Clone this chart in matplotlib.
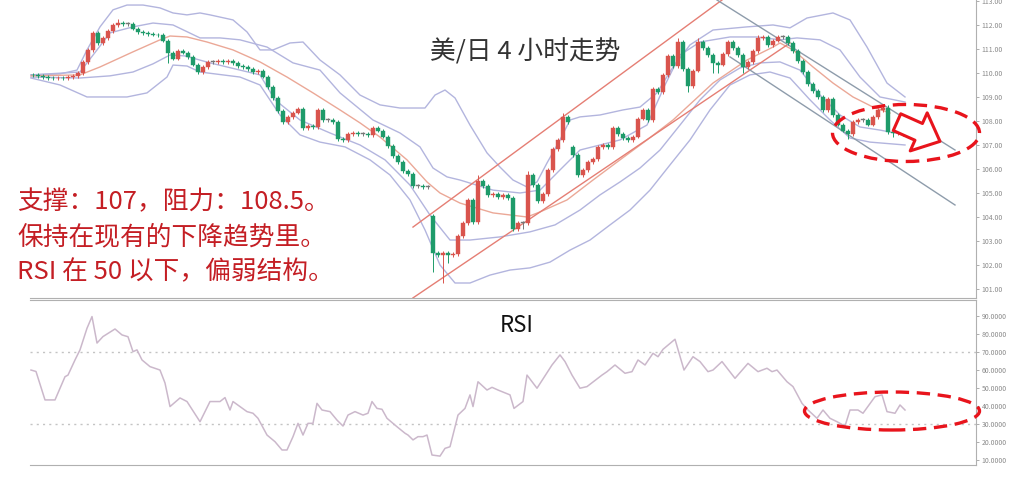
import matplotlib
matplotlib.use("Agg")
import matplotlib.pyplot as plt
from matplotlib.patches import Ellipse, Rectangle

plt.rcParams['font.family'] = ['Noto Sans CJK SC', 'DejaVu Sans']

# USD/JPY 4h closes, one per bar (open = previous close unless gapped)
closes = [
    109.90, 109.87, 109.84, 109.80, 109.78, 109.80, 109.78, 109.82, 109.86, 110.00,
    110.45, 110.95, 111.65, 111.25, 111.45, 111.75, 112.00, 112.10, 112.05, 112.05,
    111.85, 111.70, 111.65, 111.62, 111.60, 111.57, 111.35, 110.85, 110.60, 110.90,
    110.85, 110.65, 110.35, 110.05, 110.25, 110.45, 110.45, 110.50, 110.45, 110.50,
    110.40, 110.30, 110.25, 110.15, 110.05, 110.10, 109.85, 109.40, 108.95, 108.40,
    107.95, 108.15, 108.35, 108.50, 107.70, 107.80, 107.75, 108.45, 108.05, 108.05,
    107.95, 107.25, 107.20, 107.45, 107.50, 107.45, 107.45, 107.40, 107.70, 107.60,
    107.35, 106.95, 106.55, 106.30, 105.90, 105.80, 105.30, 105.30, 105.25, 105.25,
    102.50, 102.40, 102.50, 102.40, 102.45, 103.20, 103.75, 104.70, 103.80, 105.50,
    105.30, 104.90, 104.95, 104.85, 104.90, 104.80, 103.50, 103.75, 103.75, 105.75,
    105.35, 104.65, 104.95, 105.95, 106.85, 107.20, 108.15, 107.95, 106.60, 105.75,
    105.95, 106.30, 106.40, 106.90, 107.00, 106.90, 107.70, 107.45, 107.30, 107.20,
    107.35, 108.10, 108.45, 108.05, 109.35, 109.20, 109.90, 110.70, 110.30, 111.30,
    110.15, 109.45, 110.10, 111.30, 111.05, 110.75, 110.40, 110.35, 110.80, 111.30,
    111.05, 110.75, 110.25, 110.45, 110.90, 111.45, 111.50, 111.15, 111.35, 111.50,
    111.50, 111.25, 110.90, 110.50, 110.05, 109.55, 109.25, 109.00, 108.45, 108.90,
    108.25, 107.85, 107.60, 107.45, 107.95, 108.05, 108.05, 107.85, 108.15, 108.45,
    108.55, 107.55, 107.50, 107.60, 107.45,
]
gap_opens = {80: 104.05, 108: 106.90, 174: 107.95}
wick_hi = {17: 112.25, 89: 105.75, 99: 105.90, 106: 108.35, 129: 111.45,
           133: 111.45, 145: 111.60, 170: 108.70, 171: 108.65}
wick_lo = {27: 110.40, 80: 101.70, 82: 101.25, 83: 102.10, 98: 103.50,
           131: 109.20, 136: 110.00, 137: 110.00, 142: 110.00, 163: 107.25,
           172: 107.35}

# bollinger bands and middle average, vertices as (bar, price)
ou_x = [-0.4, 5.4, 8.8, 10.8, 13.4, 16.0, 18.8, 22.0, 25.4, 28.0, 30.8, 33.4, 35.4,
        40.0, 42.8, 45.4, 48.0, 51.4, 54.0, 57.4, 61.4, 65.4, 69.4, 73.4, 78.4, 80.4,
        82.4, 84.4, 87.4, 90.8, 93.4, 96.0, 98.8, 100.8, 102.8, 105.4, 107.4, 109.4,
        113.4, 118.0, 121.4, 124.8, 128.0, 131.4, 136.0, 142.8, 148.0, 151.4, 154.8,
        160.0, 163.4, 166.8, 170.8, 174.4]
ou_y = [109.92, 109.96, 110.12, 110.96, 111.92, 112.63, 112.83, 112.83, 112.71, 112.50,
        112.42, 112.50, 112.42, 112.21, 111.71, 110.96, 110.96, 111.25, 111.29, 110.54,
        109.92, 109.08, 108.67, 108.54, 108.54, 109.08, 109.29, 108.96, 107.83, 106.67,
        106.08, 105.54, 105.25, 105.46, 106.25, 107.21, 108.04, 108.17, 108.25, 108.46,
        108.58, 109.17, 110.25, 111.17, 111.79, 111.92, 112.00, 111.88, 112.29, 112.50,
        112.21, 111.08, 109.58, 109.00]
iu_x = [-0.4, 9.4, 12.8, 15.4, 20.0, 24.0, 28.0, 33.4, 37.4, 41.4, 46.8, 52.0, 57.4,
        61.4, 68.0, 73.4, 77.4, 80.0, 82.8, 85.4, 92.0, 97.4, 101.4, 105.4, 109.4,
        113.4, 117.4, 122.8, 126.4, 129.4, 133.4, 139.4, 144.8, 149.4, 152.8, 157.4,
        161.4, 165.4, 169.4, 174.4]
iu_y = [109.92, 110.04, 110.96, 111.67, 111.92, 112.08, 112.00, 111.46, 111.46, 111.38,
        111.08, 110.42, 110.12, 109.17, 108.04, 107.50, 106.92, 106.04, 105.67, 105.54,
        105.12, 105.00, 105.12, 105.96, 106.79, 107.00, 107.21, 107.83, 109.50, 110.75,
        111.29, 111.50, 111.50, 111.38, 111.46, 111.38, 110.96, 109.83, 109.00, 108.79]
ma_x = [-0.4, 9.4, 13.4, 20.0, 25.4, 27.4, 30.8, 34.8, 40.0, 45.4, 50.8, 56.0, 61.4,
        65.4, 69.4, 74.8, 78.8, 81.4, 85.4, 92.0, 98.8, 101.4, 106.8, 112.0, 117.4,
        122.8, 128.0, 136.0, 142.8, 148.0, 149.4, 152.0, 156.0, 160.0, 164.0, 168.0, 171.4]
ma_y = [109.88, 109.92, 110.25, 110.88, 111.38, 111.54, 111.50, 111.29, 110.96, 110.46,
        109.83, 109.17, 108.46, 107.92, 107.33, 106.38, 105.46, 105.00, 104.58, 104.17,
        104.00, 104.21, 104.71, 105.54, 106.38, 107.21, 108.04, 109.58, 110.54, 111.08,
        111.25, 110.96, 110.25, 109.58, 109.00, 108.58, 108.33]
il_x = [-0.4, 9.4, 15.4, 20.0, 24.0, 27.4, 30.4, 35.4, 41.4, 45.4, 48.4, 53.4, 59.4,
        65.4, 70.4, 75.4, 79.4, 83.4, 87.4, 93.4, 99.4, 104.4, 109.4, 113.4, 117.4,
        121.4, 125.4, 129.4, 133.4, 137.4, 141.4, 145.4, 149.4, 153.4, 157.4, 161.4,
        165.4, 169.4, 174.4]
il_y = [109.83, 109.79, 109.88, 110.04, 110.38, 110.75, 110.71, 110.42, 110.12, 109.92,
        108.88, 108.04, 107.50, 107.00, 106.38, 105.33, 104.08, 103.04, 103.04, 103.17,
        103.38, 103.67, 104.29, 104.92, 105.46, 106.04, 106.79, 107.83, 108.88, 109.71,
        110.21, 110.42, 110.46, 110.12, 109.08, 108.25, 107.75, 107.62, 107.42]
ol_x = [-0.4, 5.4, 10.8, 18.8, 22.8, 26.8, 28.0, 30.8, 33.4, 41.4, 45.4, 49.4, 53.4,
        57.4, 62.4, 67.4, 71.4, 75.4, 78.4, 81.4, 84.4, 87.4, 91.4, 95.4, 99.4, 103.4,
        107.4, 111.4, 115.4, 119.4, 123.4, 127.4, 131.4, 135.4, 139.4, 143.4, 147.4,
        151.4, 155.4, 159.4, 163.4, 167.4, 174.4]
ol_y = [109.79, 109.50, 109.00, 109.00, 109.17, 109.83, 110.33, 110.29, 110.04, 109.83,
        109.50, 108.25, 107.42, 107.12, 106.92, 106.38, 105.75, 104.71, 103.46, 102.00,
        101.25, 101.25, 101.58, 101.79, 101.88, 102.12, 102.62, 103.04, 103.67, 104.29,
        105.12, 106.17, 107.21, 108.46, 109.50, 109.92, 110.04, 109.79, 108.88, 108.04,
        107.29, 107.12, 107.00]

# trend channels: ((bar, price), (bar, price))
up_channel = [((76.0, 103.58), (137.8, 113.04)), ((76.0, 100.63), (151.4, 111.25))]
down_channel = [((136.8, 113.04), (184.4, 106.79)), ((139.4, 110.67), (184.4, 104.50))]

# RSI (bar, value)
rsi_x = [-0.4, 0.6, 2.4, 4.4, 6.4, 7.0, 8.4, 9.4, 10.8, 11.8, 12.8, 14.0, 16.4, 17.8,
         19.0, 20.0, 20.8, 21.8, 23.4, 25.4, 26.4, 27.4, 29.4, 30.8, 33.4, 35.4, 37.4,
         38.4, 39.4, 40.0, 42.8, 44.0, 45.0, 46.8, 48.4, 49.8, 50.8, 52.0, 53.0, 54.0,
         55.0, 56.0, 56.8, 57.8, 59.4, 60.8, 62.0, 63.0, 64.4, 66.0, 67.0, 67.8, 68.8,
         69.8, 70.8, 72.8, 74.4, 75.0, 76.0, 77.0, 78.0, 78.8, 79.8, 81.4, 82.4, 83.4,
         85.0, 86.4, 87.4, 88.0, 89.0, 90.8, 91.8, 93.0, 95.4, 96.2, 98.0, 98.8, 100.8,
         103.8, 105.4, 106.4, 107.8, 109.4, 110.8, 113.8, 114.8, 116.4, 118.4, 119.8,
         121.0, 122.4, 124.0, 125.0, 126.0, 128.4, 130.2, 132.0, 133.4, 135.0, 136.0,
         137.8, 140.4, 143.0, 145.0, 146.8, 147.8, 148.8, 150.8, 152.0, 153.8, 155.0,
         156.8, 158.0, 159.4, 160.8, 162.4, 163.4, 165.0, 166.0, 168.4, 169.8, 170.8,
         172.4, 173.4, 174.4]
rsi_y = [59.8, 59.0, 43.2, 43.2, 56.1, 57.0, 65.4, 71.0, 83.0, 89.5, 74.8, 78.4, 82.6, 79.3,
         78.3, 70.0, 71.0, 65.4, 61.7, 59.8, 52.6, 39.5, 44.3, 42.3, 31.1, 42.3, 42.3,
         44.5, 37.6, 42.3, 36.7, 35.8, 33.0, 23.7, 20.0, 15.4, 15.4, 22.8, 30.2, 23.7,
         30.2, 30.2, 41.3, 37.6, 36.7, 32.0, 28.7, 34.8, 36.7, 34.8, 35.8, 42.3, 38.5,
         38.0, 33.0, 28.3, 24.7, 23.7, 21.0, 22.8, 22.8, 23.7, 12.6, 12.0, 16.3, 17.2,
         34.8, 38.5, 46.0, 39.5, 53.3, 48.7, 50.2, 48.7, 46.0, 38.5, 42.3, 57.0, 49.7,
         62.6, 68.2, 64.5, 57.0, 49.7, 50.6, 57.0, 58.9, 62.6, 58.0, 58.9,
         65.4, 62.6, 69.1, 67.2, 71.3, 76.9, 59.8, 67.2, 64.5, 58.9, 59.8,
         64.5, 55.2, 63.5, 58.9, 60.8, 58.9, 59.8, 53.3, 50.6, 41.3, 37.6,
         33.0, 37.6, 33.0, 31.1, 28.7, 37.6, 37.6, 35.8, 45.0, 46.0, 36.7,
         35.8, 40.4, 37.6]

price_ticks = list(range(101, 114))
rsi_ticks = [10, 20, 30, 40, 50, 60, 70, 80, 90]

title = "美/日 4 小时走势"
notes = ["支撑：107，阻力：108.5。", "保持在现有的下降趋势里。", "RSI 在 50 以下，偏弱结构。"]

RED_C = "#d9544d"
GREEN_C = "#1e9b6a"
BAND_C = "#b3b5de"
MA_C = "#eba897"
CH_C = "#e57e74"
GRAY_C = "#8e9cab"
MARK_C = "#e8141c"

fig = plt.figure(figsize=(10.24, 4.88), dpi=100)
ax1 = fig.add_axes([30 / 1024, 190 / 488, 946 / 1024, 298 / 488])
ax2 = fig.add_axes([30 / 1024, 23 / 488, 946 / 1024, 165 / 488])

# bands first so candles sit on top
for bx, by in [(ou_x, ou_y), (iu_x, iu_y), (il_x, il_y), (ol_x, ol_y)]:
    ax1.plot(bx, by, color=BAND_C, lw=1, zorder=1)
ax1.plot(ma_x, ma_y, color=MA_C, lw=1, zorder=1)
for (x0, y0), (x1, y1) in up_channel:
    ax1.plot([x0, x1], [y0, y1], color=CH_C, lw=1, zorder=2)
for (x0, y0), (x1, y1) in down_channel:
    ax1.plot([x0, x1], [y0, y1], color=GRAY_C, lw=1, zorder=2)

# candles
prev = closes[0] + 0.02
for i, c in enumerate(closes):
    o = gap_opens.get(i, prev)
    top, bot = max(o, c), min(o, c)
    hi = wick_hi.get(i, top + 0.08)
    lo = wick_lo.get(i, bot - 0.08)
    col = RED_C if c > o else GREEN_C if c < o else "#777777"
    ax1.vlines(i, lo, hi, color=col, lw=0.7, zorder=3)
    ax1.add_patch(Rectangle((i - 0.32, bot), 0.64, max(top - bot, 0.03),
                            facecolor=col, edgecolor=col, lw=0.3, zorder=4))
    prev = c

ax1.set_xlim(-0.6, 188.6)
ax1.set_ylim(100.625, 113.04)
ax1.set_yticks(price_ticks)
ax1.set_yticklabels([f"{t:.2f}" for t in price_ticks])

ax2.plot(rsi_x, rsi_y, color="#cbb8cb", lw=1.1)
for lvl in (70, 30):
    ax2.axhline(lvl, color="#c4c4c4", lw=1, ls=(0, (1.5, 3)), zorder=0)
ax2.set_xlim(-0.6, 188.6)
ax2.set_ylim(7.06, 98.7)
ax2.set_yticks(rsi_ticks)
ax2.set_yticklabels([f"{t:.4f}" for t in rsi_ticks])

for ax in (ax1, ax2):
    ax.yaxis.tick_right()
    ax.set_xticks([])
    ax.tick_params(axis="y", direction="out", length=2, width=0.6, colors="#a0a0a0",
                   labelsize=5, labelcolor="#8a8a8a", pad=2)
    ax.spines["left"].set_visible(False)
    for s in ("right", "bottom", "top"):
        ax.spines[s].set_color("#b0b0b0")
        ax.spines[s].set_linewidth(0.8)
ax1.spines["top"].set_visible(False)

# annotations
ax1.add_patch(Ellipse((174.6, 107.5), 29.4, 2.375, fill=False, ec=MARK_C, lw=2.4,
                      ls=(0, (4, 2.3)), clip_on=False, zorder=6))
ax2.add_patch(Ellipse((171.8, 37.05), 35, 21.1, fill=False, ec=MARK_C, lw=2.4,
                      ls=(0, (4, 2.3)), clip_on=False, zorder=6))
ax1.annotate("", xy=(181.4, 107.15), xytext=(172.8, 107.95), annotation_clip=False,
             arrowprops=dict(arrowstyle="simple,head_length=0.7,head_width=1.25,tail_width=0.55",
                             fc="white", ec=MARK_C, lw=2.2, mutation_scale=24,
                             shrinkA=0, shrinkB=0), zorder=7)

fig.text(525 / 1024, 1 - 52 / 488, title, ha="center", va="center", fontsize=18.5,
         color="#333333")
for k, line in enumerate(notes):
    fig.text(17 / 1024, 1 - (202 + 35 * k) / 488, line, ha="left", va="center",
             fontsize=18.5, color="#c41e24")
fig.text(517 / 1024, 1 - 325 / 488, "RSI", ha="center", va="center", fontsize=16,
         color="#111111")

fig.savefig("out.png", dpi=100, facecolor="white")
